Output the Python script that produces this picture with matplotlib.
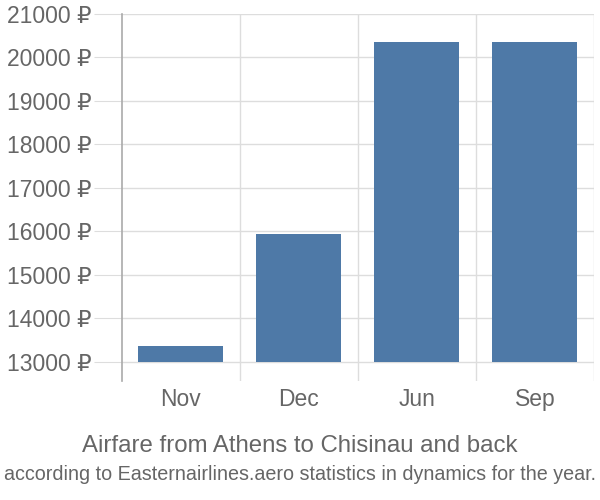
import matplotlib
matplotlib.use("Agg")
import matplotlib.pyplot as plt

months = ["Nov", "Dec", "Jun", "Sep"]
prices = [13370, 15940, 20360, 20350]
y_ticks = [13000, 14000, 15000, 16000, 17000, 18000, 19000, 20000, 21000]
title = "Airfare from Athens to Chisinau and back"
subtitle = "according to Easternairlines.aero statistics in dynamics for the year."

plt.rcParams['font.family'] = ['Liberation Sans', 'DejaVu Sans']
txt = "#666666"

fig = plt.figure(figsize=(6, 5), dpi=100)
ax = fig.add_axes([0.203, 0.238, 0.787, 0.734])

base = 13000
xs = list(range(len(months)))
ax.bar(xs, [p - base for p in prices], bottom=base, width=0.72,
       color="#4e79a7", zorder=3)

ax.set_xlim(-0.5, len(months) - 0.5)
ax.set_ylim(12563, 21000)
ax.set_yticks(y_ticks)
ax.set_yticklabels([f"{v} ₽" for v in y_ticks])
ax.set_xticks(xs)
ax.set_xticklabels(months)

# grid
for v in y_ticks:
    ax.axhline(v, color="#dddddd", lw=1, zorder=1)
for b in [0.5, 1.5, 2.5, 3.5]:
    ax.axvline(b, color="#dddddd", lw=1, zorder=1)

for s in ["top", "right", "bottom"]:
    ax.spines[s].set_visible(False)
ax.spines["left"].set_color("#aaaaaa")
ax.spines["left"].set_linewidth(1.2)

ax.tick_params(axis="y", length=20, color="#dddddd", labelsize=16.5,
               labelcolor=txt, pad=2)
ax.tick_params(axis="x", length=0, labelsize=16.5, labelcolor=txt, pad=5)

fig.text(0.5, 0.108, title, ha="center", va="center", fontsize=17.3, color=txt)
fig.text(0.5, 0.052, subtitle, ha="center", va="center", fontsize=14.2,
         color=txt)

fig.savefig("out.png", dpi=100)
